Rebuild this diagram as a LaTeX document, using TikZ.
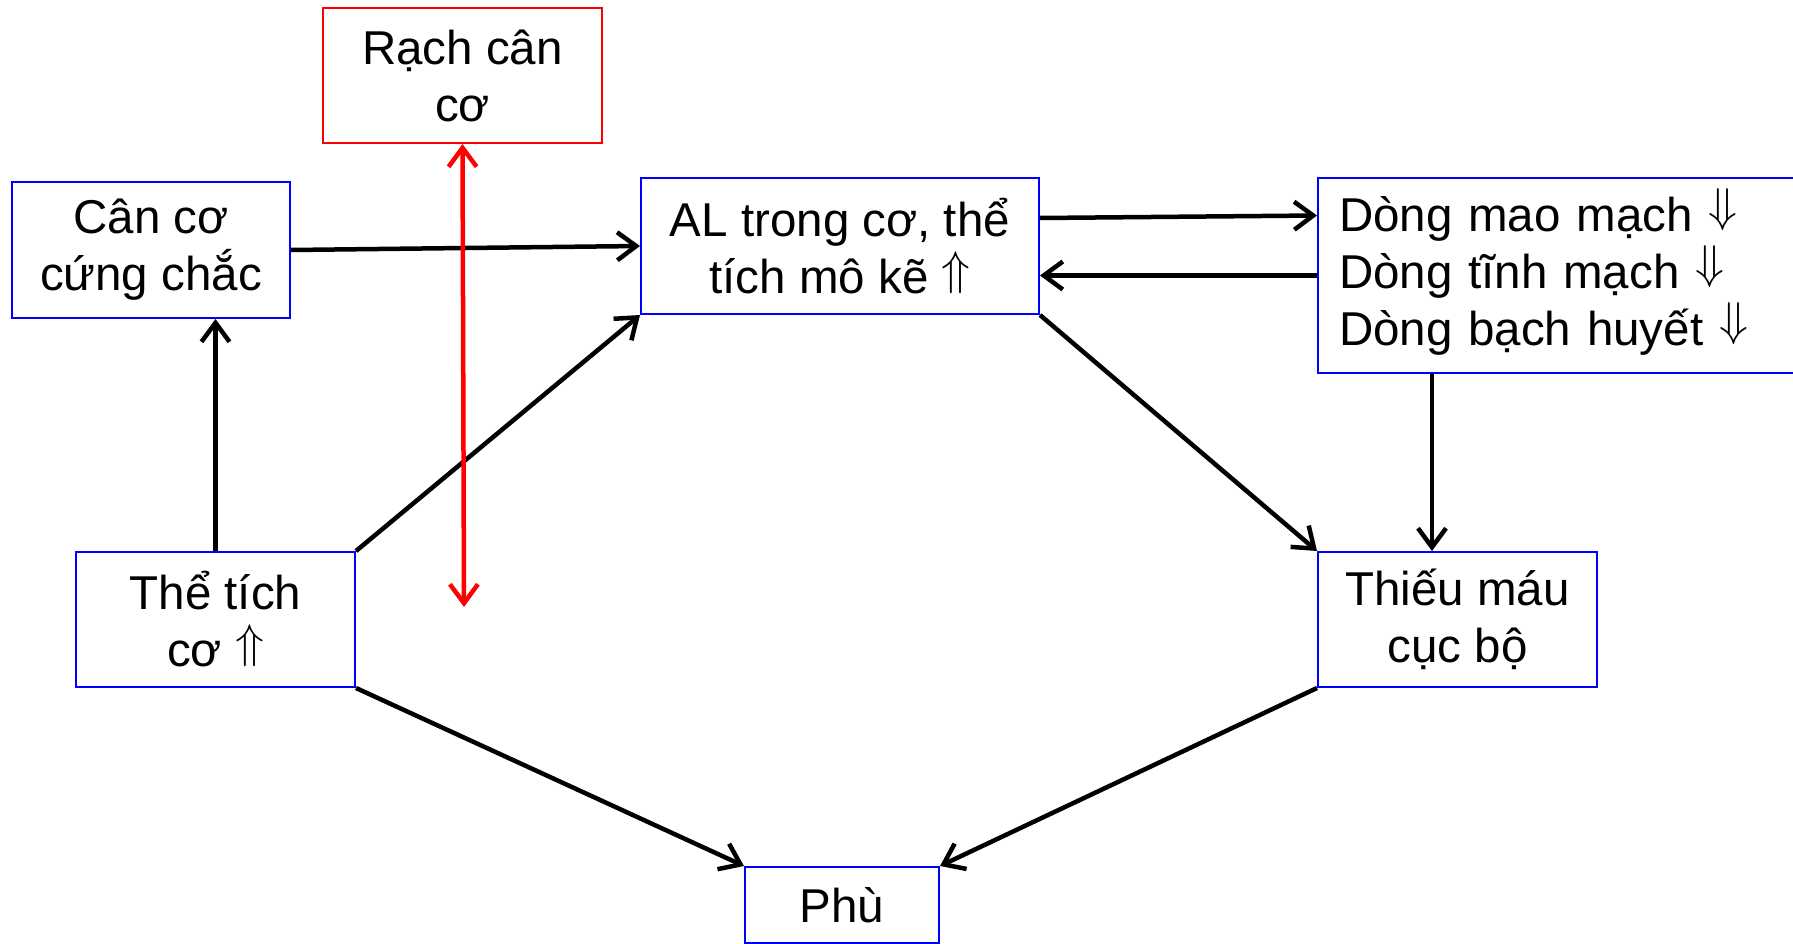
\documentclass[tikz,border=0pt]{standalone}
\usepackage{fontspec}
\setmainfont{Liberation Sans}
\usetikzlibrary{arrows.meta}
\newcommand{\upar}{ \raisebox{9.2pt}[32pt][0pt]{\resizebox*{!}{42pt}{$\Uparrow$}}}
\newcommand{\dnar}{ \raisebox{9.2pt}[32pt][0pt]{\resizebox*{!}{42pt}{$\Downarrow$}}}
\tikzset{
  box/.style={draw=blue, line width=2pt, fill=white, anchor=north west, align=center,
    font=\fontsize{47.5}{57}\selectfont, inner sep=0pt},
  rbox/.style={box, draw=red},
  conn/.style={line width=4.5pt, -{Straight Barb[length=19pt,width=28pt]}},
  rconn/.style={line width=4.5pt, red, {Straight Barb[length=19pt,width=28pt]}-{Straight Barb[length=19pt,width=28pt]}}
}
\begin{document}
\begin{tikzpicture}[x=1pt,y=-1pt]
\useasboundingbox (0,0) rectangle (1793,944);
\node[rbox, minimum width=279, minimum height=135] (rach) at (322,7) {Rạch cân\\cơ};
\node[box, minimum width=278, minimum height=136] (can) at (11,181) {Cân cơ\\cứng chắc};
\node[box, minimum width=398, minimum height=136] (al) at (640,177) {AL trong cơ, thể\\tích mô kẽ\upar};
\node[box, minimum width=500, minimum height=195, align=left, text width=458pt, inner xsep=21pt] (dong) at (1317,177) {Dòng mao mạch\dnar\\Dòng tĩnh mạch\dnar\\Dòng bạch huyết\dnar};
\node[box, minimum width=279, minimum height=135] (the) at (75,551) {Thể tích\\cơ\upar};
\node[box, minimum width=279, minimum height=135] (thieu) at (1317,551) {Thiếu máu\\cục bộ};
\node[box, minimum width=194, minimum height=76] (phu) at (744,866) {Phù};
\coordinate (redend) at (464,607);

\draw[conn] (can.east) -- (al.west);
\draw[conn] (the.north) -- (the.north |- can.south);
\draw[conn] (the.north east) -- (al.south west);
\draw[conn] ([yshift=28pt]al.east) -- ([yshift=60pt]dong.west);
\draw[conn] (dong.west) -- (al.east |- dong.west);
\draw[conn] (al.south east) -- (thieu.north west);
\draw[conn] ([xshift=115pt]dong.south west) -- ([xshift=115pt]dong.south west |- thieu.north);
\draw[conn] (the.south east) -- (phu.north west);
\draw[conn] (thieu.south west) -- (phu.north east);
\draw[rconn] (rach.south) -- (redend);
\end{tikzpicture}
\end{document}
